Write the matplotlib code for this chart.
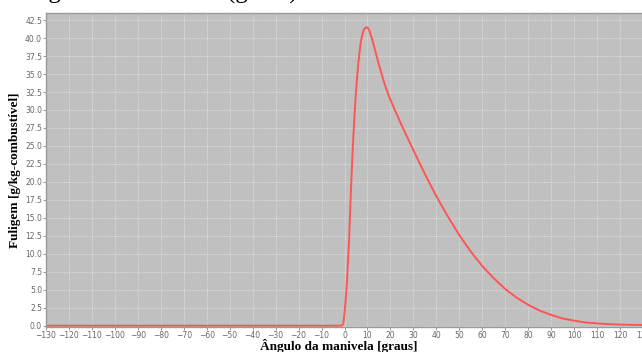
import matplotlib
matplotlib.use("Agg")
import matplotlib.pyplot as plt

# ------ data section ------
angle = [-130, -2, -1, -0.5, 0, 0.5, 1, 1.5, 2, 2.5, 3, 3.5, 4, 4.5, 5, 5.5, 6,
         6.5, 7, 7.5, 8, 8.5, 9, 9.5, 10, 10.5, 11, 12, 13, 14, 15, 16, 17, 18,
         20, 25, 30, 35, 40, 45, 50, 55, 60, 65, 70, 75, 80, 85, 90, 95, 100,
         105, 110, 115, 120, 125, 130]
soot = [0.0, 0.0, 0.05, 0.3, 1.7, 3.5, 5.8, 8.8, 12.0, 16.2, 20.3, 24.0, 27.2,
        30.0, 32.5, 34.6, 36.4, 37.9, 39.2, 40.1, 40.8, 41.2, 41.4, 41.5, 41.45,
        41.25, 40.9, 39.9, 38.7, 37.5, 36.3, 35.2, 34.1, 33.1, 31.4, 27.8,
        24.4, 21.1, 18.0, 15.2, 12.6, 10.3, 8.3, 6.6, 5.1, 3.9, 2.9, 2.1, 1.5,
        1.0, 0.7, 0.45, 0.32, 0.22, 0.15, 0.12, 0.1]

x_ticks = list(range(-130, 131, 10))
y_ticks = [i * 2.5 for i in range(18)]


def main():
    fig = plt.figure(figsize=(6.42, 3.52), dpi=100)
    ax = fig.add_axes([46 / 642, 25 / 352, 597 / 642, 314.3 / 352])
    ax.set_facecolor("#c0c0c0")

    ax.plot(angle, soot, color="#ff5555", linewidth=1.4)

    ax.set_xlim(-130, 130)
    ax.set_ylim(-0.18, 43.53)
    ax.set_xticks(x_ticks)
    ax.set_yticks(y_ticks)
    ax.set_yticklabels(["%.1f" % v for v in y_ticks])
    ax.tick_params(axis="both", labelsize=5.5, labelcolor="#666666",
                   color="#888888", length=2, width=0.6, pad=0.8)
    ax.grid(True, color="white", linestyle=(0, (1.5, 1.5)), linewidth=0.6,
            alpha=0.5)
    ax.set_axisbelow(True)

    for side in ["left", "bottom", "top", "right"]:
        ax.spines[side].set_color("#999999")
        ax.spines[side].set_linewidth(1.0)

    ax.set_xlabel("Ângulo da manivela [graus]", family="Liberation Serif",
                  fontweight="bold", fontsize=9.5)
    ax.xaxis.set_label_coords(0.49, -0.037)
    ax.set_ylabel("Fuligem [g/kg-combustível]", family="Liberation Serif",
                  fontweight="bold", fontsize=9.5, labelpad=3)

    # caption text of the page above, mostly cropped off
    fig.text(6 / 642, 1 + 1.5 / 352, "o ângulo da manivela (graus).",
             family="Liberation Serif", fontsize=18, va="baseline",
             ha="left")

    fig.savefig("out.png", dpi=100)


if __name__ == "__main__":
    main()
